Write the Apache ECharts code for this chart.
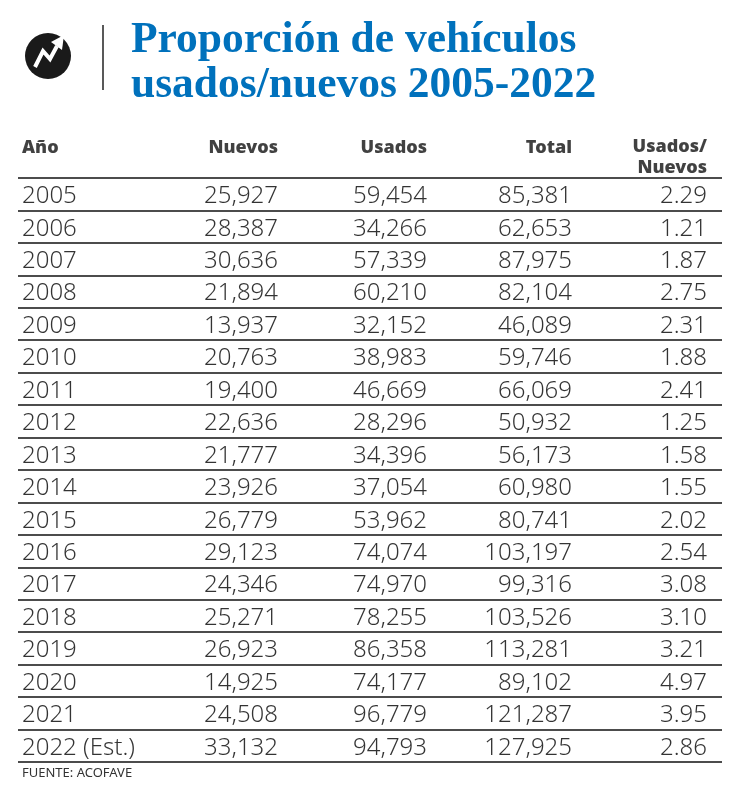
<!DOCTYPE html>
<html>
<head>
<meta charset="utf-8">
<script src="https://cdn.jsdelivr.net/npm/echarts@6/dist/echarts.min.js"></script>
<style>
  html, body { margin: 0; padding: 0; background: #fff; }
  #main { width: 742px; height: 801px; }
</style>
</head>
<body>
<div id="main"></div>
<script>
var years = ['2005', '2006', '2007', '2008', '2009', '2010', '2011', '2012', '2013',
  '2014', '2015', '2016', '2017', '2018', '2019', '2020', '2021', '2022 (Est.)'];
var nuevos = [25927, 28387, 30636, 21894, 13937, 20763, 19400, 22636, 21777,
  23926, 26779, 29123, 24346, 25271, 26923, 14925, 24508, 33132];
var usados = [59454, 34266, 57339, 60210, 32152, 38983, 46669, 28296, 34396,
  37054, 53962, 74074, 74970, 78255, 86358, 74177, 96779, 94793];
var total = [85381, 62653, 87975, 82104, 46089, 59746, 66069, 50932, 56173,
  60980, 80741, 103197, 99316, 103526, 113281, 89102, 121287, 127925];
var ratio = [2.29, 1.21, 1.87, 2.75, 2.31, 1.88, 2.41, 1.25, 1.58,
  1.55, 2.02, 2.54, 3.08, 3.10, 3.21, 4.97, 3.95, 2.86];
var headers = ['Año', 'Nuevos', 'Usados', 'Total', 'Usados/\nNuevos'];

// column anchors on the x axis (left edge for Año, right edge for the rest)
var colX = [4, 260, 409, 554, 689];

var myChart = echarts.init(document.getElementById('main'));

var cellFont = { fontFamily: 'Noto Sans', fontSize: 24, fontWeight: 300, color: '#000' };

function fmt(v) { return v.toLocaleString('en-US'); }

function column(c, values, text) {
    return {
        type: 'scatter',
        symbolSize: 0,
        clip: false,
        silent: true,
        data: values.map(function (v, i) { return [colX[c], i + 0.5, text(v)]; }),
        label: Object.assign({
            show: true,
            position: 'inside',
            align: c === 0 ? 'left' : 'right',
            verticalAlign: 'middle',
            formatter: function (p) { return p.data[2]; }
        }, cellFont),
        labelLayout: { dy: 2 }
    };
}

var headerSeries = {
    type: 'scatter',
    symbolSize: 0,
    clip: false,
    silent: true,
    data: headers.map(function (h, c) { return [colX[c], -1, h]; }),
    label: {
        show: true,
        position: 'inside',
        verticalAlign: 'middle',
        lineHeight: 21,
        fontFamily: 'Noto Sans',
        fontWeight: 900,
        fontSize: 18,
        color: '#111',
        formatter: function (p) { return p.data[2]; },
        align: 'right'
    },
    labelLayout: function (p) {
        if (p.dataIndex === 0) return { align: 'left', dy: 2 };
        if (p.dataIndex === 4) return { dy: 12 };
        return { dy: 2 };
    }
};

myChart.setOption({
    animation: false,
    title: [{
        text: 'Proporción de vehículos\nusados/nuevos 2005-2022',
        left: 131,
        top: 18,
        padding: 0,
        textStyle: {
            fontFamily: 'Liberation Serif',
            fontWeight: 'bold',
            fontSize: 43.5,
            lineHeight: 45,
            color: '#0071bc'
        }
    }, {
        text: 'FUENTE: ACOFAVE',
        left: 22,
        top: 767,
        padding: 0,
        textStyle: {
            fontFamily: 'Noto Sans',
            fontWeight: 'normal',
            fontSize: 13,
            color: '#333'
        }
    }],
    graphic: [
        { type: 'circle', shape: { cx: 48, cy: 56, r: 23 }, style: { fill: '#1a1a1a' } },
        { type: 'polyline', shape: { points: [[35, 67], [43, 51], [50, 59], [57, 46]] },
          style: { stroke: '#fff', lineWidth: 4, fill: null } },
        { type: 'polygon', shape: { points: [[64, 35], [51, 42], [62, 50]] }, style: { fill: '#fff' } },
        { type: 'line', shape: { x1: 103, y1: 25, x2: 103, y2: 90 }, style: { stroke: '#222', lineWidth: 1.5 } }
    ],
    grid: { left: 18, right: 20, top: 178, bottom: 39 },
    xAxis: { type: 'value', min: 0, max: 704, show: false },
    yAxis: {
        type: 'value',
        inverse: true,
        min: 0,
        max: 18,
        interval: 1,
        axisLine: { show: false },
        axisTick: { show: false },
        axisLabel: { show: false },
        splitLine: { show: true, lineStyle: { color: '#111', width: 1.5 } }
    },
    series: [
        headerSeries,
        column(0, years, function (v) { return v; }),
        column(1, nuevos, fmt),
        column(2, usados, fmt),
        column(3, total, fmt),
        column(4, ratio, function (v) { return v.toFixed(2); })
    ]
});
</script>
</body>
</html>
